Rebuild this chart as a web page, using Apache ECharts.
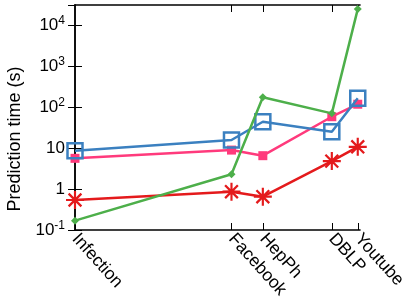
<!DOCTYPE html>
<html><head><meta charset="utf-8">
<script src="https://cdn.jsdelivr.net/npm/echarts@6/dist/echarts.min.js"></script>
<style>html,body{margin:0;padding:0;background:#fff}#c{width:409px;height:302px}</style>
</head><body><div id="c"></div>
<script>
// Datasets (x positions along the horizontal axis, relative scale 0-100)
const categories = ['Infection', 'Facebook', 'HepPh', 'DBLP', 'Youtube'];
const xPositions = [0, 54.9, 65.9, 90.1, 99.2];
// Prediction times (s)
const blueSeries = [8.6, 15.7, 43.7, 25, 163];
const pinkSeries = [5.6, 8.9, 6.5, 58, 117];
const redSeries = [0.54, 0.86, 0.65, 4.8, 10.7];
const greenSeries = [0.169, 2.29, 173, 70, 24500];
const yTickLabels = {'-1': '{b|10}{s|-1}', '0': '{b|1}', '1': '{b|10}', '2': '{b|10}{s|2}', '3': '{b|10}{s|3}', '4': '{b|10}{s|4}'};
const yAxisTitle = 'Prediction time (s)';

const FONT = 'Liberation Sans';
const asterisk = 'path://M0,44L100,44L100,56L0,56Z M44,0L56,0L56,100L44,100Z M19,10L90,81L81,90L10,19Z M81,10L90,19L19,90L10,81Z';

function pts(arr){ return arr.map((v,i)=>[xPositions[i], v]); }

const chart = echarts.init(document.getElementById('c'), null, {renderer:'canvas'});
const option = {
  animation: false,
  grid: {left: 75, right: 47, top: 5, bottom: 72, show: false},
  graphic: [{
    type: 'text', x: 15, y: 139, rotation: Math.PI / 2,
    style: {text: yAxisTitle, fontFamily: FONT, fontSize: 18, fill: '#000', align: 'center', verticalAlign: 'middle'}
  }],
  xAxis: [{
    type: 'value', min: 0, max: 100,
    axisLine: {lineStyle: {color: '#000', width: 1.5}},
    axisTick: {inside: true, length: 7, customValues: xPositions, lineStyle: {color: '#000', width: 1}},
    splitLine: {show: false},
    axisLabel: {customValues: xPositions, rotate: -48, margin: 6, color: '#000', fontFamily: FONT, fontSize: 17.5,
      formatter: v => { const i = xPositions.indexOf(v); return i >= 0 ? categories[i] : ''; }}
  }, {
    type: 'value', min: 0, max: 100, position: 'top',
    axisLine: {show: true, lineStyle: {color: '#000', width: 1.5}},
    axisTick: {show: true, inside: true, length: 7, customValues: xPositions.slice(1), lineStyle: {color: '#000', width: 1}},
    axisLabel: {show: false}, splitLine: {show: false}
  }],
  yAxis: [{
    type: 'log', min: 0.1, max: 30800, logBase: 10,
    axisLine: {show: true, lineStyle: {color: '#000', width: 1.5}},
    axisTick: {inside: true, length: 7, lineStyle: {color: '#000', width: 1}},
    splitLine: {show: false},
    axisLabel: {margin: 10, color: '#000', fontFamily: FONT, showMaxLabel: false,
      formatter: v => { const l = Math.log10(v); const e = Math.round(l); if (Math.abs(l - e) > 1e-6) return ''; return yTickLabels[String(e)] || ''; },
      rich: {b: {fontSize: 17, fontFamily: FONT, color: '#000'}, s: {fontSize: 12, fontFamily: FONT, color: '#000', verticalAlign: 'top', padding: [0,0,8,0]}}}
  }, {
    type: 'log', min: 0.1, max: 30800, logBase: 10, position: 'right',
    axisLine: {show: true, lineStyle: {color: '#000', width: 1.5}},
    axisTick: {show: true, inside: true, length: 7, lineStyle: {color: '#000', width: 1}},
    axisLabel: {show: false}, splitLine: {show: false}
  }],
  series: [
    {type: 'line', name: 'red', data: pts(redSeries), z: 2, color: '#e41a1c',
     lineStyle: {width: 2.5, color: '#e41a1c'}, symbol: asterisk, symbolSize: 18,
     itemStyle: {color: '#e41a1c'}},
    {type: 'line', name: 'pink', data: pts(pinkSeries), z: 3, color: '#ff3a7c',
     lineStyle: {width: 2.5, color: '#ff3a7c'}, symbol: 'rect', symbolSize: 9,
     itemStyle: {color: '#ff3a7c'}},
    {type: 'line', name: 'blue', data: pts(blueSeries), z: 4, color: '#3b80c0',
     lineStyle: {width: 2.5, color: '#3b80c0'}, symbol: 'rect', symbolSize: 15, showAllSymbol: true,
     itemStyle: {color: 'rgba(0,0,0,0)', borderColor: '#3b80c0', borderWidth: 2.5}},
    {type: 'line', name: 'green', data: pts(greenSeries), z: 5, color: '#4daf4a',
     lineStyle: {width: 2.5, color: '#4daf4a'}, symbol: 'diamond', symbolSize: 8,
     itemStyle: {color: '#4daf4a'}}
  ]
};
chart.setOption(option);
</script></body></html>
